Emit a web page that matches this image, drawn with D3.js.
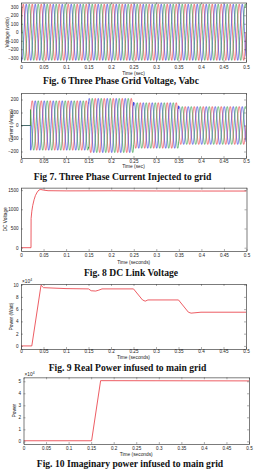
<!DOCTYPE html>
<html>
<head>
<meta charset="utf-8">
<script src="https://cdn.jsdelivr.net/npm/d3@7"></script>
<style>
  body { margin: 0; background: #fff; }
  svg { display: block; }
  .tick text { font-family: "Liberation Sans", Arial, sans-serif; font-size: 4.6px; fill: #222; }
  .tick line { stroke: #333; stroke-width: 0.4; }
  .domain { stroke: #222; stroke-width: 0.6; }
  .ttl { font-family: "Liberation Sans", Arial, sans-serif; font-size: 4.8px; fill: #222; }
  .cap { font-family: "Liberation Serif", "Times New Roman", serif; font-weight: bold; font-size: 9.6px; fill: #111; }
</style>
</head>
<body>
<script>
// ---- data ----
var timeTicks = [0, 0.05, 0.1, 0.15, 0.2, 0.25, 0.3, 0.35, 0.4, 0.45, 0.5];
var phaseNames = ['a', 'b', 'c'];
var phaseColors = ['#e8333c', '#2f35d8', '#2c9a40'];
var phaseShiftDeg = [0, -120, 120];
var gridFreq = 50;

// Fig 6 voltage: peak value of each phase
var voltPeak = 330;
var voltTicks = [-300, -200, -100, 0, 100, 200, 300];

// Fig 7 current: envelope (peak amps) per time segment
var currSegStart = [0, 0.021, 0.15, 0.25, 0.35];
var currSegEnd = [0.021, 0.15, 0.25, 0.35, 0.5];
var currSegPeak = [0, 190, 208, 175, 145];
var currTicks = [-200, -100, 0, 100, 200];

// Fig 8 DC link voltage
var dcTime = [0, 0.0222, 0.0224, 0.024, 0.026, 0.029, 0.032, 0.036, 0.04, 0.044, 0.05, 0.06, 0.1, 0.2, 0.3, 0.4, 0.5];
var dcVolt = [0, 0, 760, 950, 1100, 1250, 1360, 1450, 1505, 1515, 1500, 1485, 1480, 1482, 1478, 1476, 1476];
var dcTicks = [0, 500, 1000, 1500];

// Fig 9 real power (x10^4 W)
var pTime = [0, 0.024, 0.0445, 0.05, 0.1, 0.15, 0.156, 0.166, 0.173, 0.18, 0.25, 0.27, 0.276, 0.282, 0.35, 0.372, 0.378, 0.4, 0.5];
var pWatt = [0, 0, 9.9, 9.5, 9.35, 9.3, 9.0, 8.95, 9.1, 9.3, 9.3, 7.5, 7.3, 7.5, 7.5, 5.5, 5.35, 5.5, 5.5];
var pTicks = [0, 2, 4, 6, 8, 10];

// Fig 10 imaginary power (x10^4)
var qTime = [0, 0.151, 0.171, 0.5];
var qVar = [0.05, 0.05, 5.05, 5.03];
var qTicks = [0, 1, 2, 3, 4, 5];

var W = 254, H = 473;
var svg = d3.select('body').append('svg').attr('width', W).attr('height', H);
svg.append('rect').attr('width', W).attr('height', H).attr('fill', '#fff');

var tickFmt = function(d) { return d3.format('~g')(d); };

function panel(o) {
  var x = d3.scaleLinear().domain([0, 0.5]).range([o.left, o.right]);
  var y = d3.scaleLinear().domain(o.yDomain).range([o.bottom, o.top]);
  var g = svg.append('g');

  var clipId = 'clip' + o.id;
  g.append('clipPath').attr('id', clipId).append('rect')
    .attr('x', o.left).attr('y', o.top)
    .attr('width', o.right - o.left).attr('height', o.bottom - o.top);
  var plot = g.append('g').attr('clip-path', 'url(#' + clipId + ')');

  o.draw(plot, x, y);

  // box with inward ticks like matlab
  g.append('g').attr('transform', 'translate(0,' + o.bottom + ')')
    .call(d3.axisBottom(x).tickValues(timeTicks).tickFormat(tickFmt).tickSizeInner(-2).tickSizeOuter(0).tickPadding(o.xPad));
  g.append('g').attr('transform', 'translate(0,' + o.top + ')')
    .call(d3.axisTop(x).tickValues(timeTicks).tickFormat('').tickSizeInner(-2).tickSizeOuter(0));
  g.append('g').attr('transform', 'translate(' + o.left + ',0)')
    .call(d3.axisLeft(y).tickValues(o.yTicks).tickFormat(tickFmt).tickSizeInner(-2).tickSizeOuter(0).tickPadding(2.5));
  g.append('g').attr('transform', 'translate(' + o.right + ',0)')
    .call(d3.axisRight(y).tickValues(o.yTicks).tickFormat('').tickSizeInner(-2).tickSizeOuter(0));

  g.append('text').attr('class', 'ttl')
    .attr('x', (o.left + o.right) / 2).attr('y', o.xTitleY)
    .attr('text-anchor', 'middle').text(o.xTitle);
  g.append('text').attr('class', 'ttl')
    .attr('transform', 'translate(' + o.yTitleX + ',' + (o.top + o.bottom) / 2 + ') rotate(-90)')
    .attr('text-anchor', 'middle').text(o.yTitle);
  if (o.expo) {
    var t = g.append('text').attr('class', 'ttl').attr('x', o.left + 1).attr('y', o.top - 1.5);
    t.append('tspan').text('\u00d710');
    t.append('tspan').attr('dy', -1.6).style('font-size', '3.4px').text('4');
  }
  g.append('text').attr('class', 'cap')
    .attr('x', o.capX).attr('y', o.capY).attr('text-anchor', 'middle').text(o.caption);
}

function phaseSeries(envelope, shift) {
  var pts = [];
  for (var t = 0; t <= 0.5; t += 0.0001) {
    pts.push([t, envelope(t) * Math.sin(2 * Math.PI * gridFreq * t + shift * Math.PI / 180)]);
  }
  return pts;
}

function currEnvelope(t) {
  var i = d3.bisectRight(currSegStart, t) - 1;
  return currSegPeak[Math.max(0, Math.min(i, currSegPeak.length - 1))];
}

function wavesDraw(envelope) {
  return function(plot, x, y) {
    var line = d3.line().x(function(d) { return x(d[0]); }).y(function(d) { return y(d[1]); });
    phaseNames.forEach(function(p, i) {
      plot.append('path')
        .attr('d', line(phaseSeries(envelope, phaseShiftDeg[i])))
        .attr('fill', 'none').attr('stroke', phaseColors[i]).attr('stroke-width', 0.7);
    });
  };
}

function redDraw(ts, vs) {
  return function(plot, x, y) {
    var line = d3.line().x(function(d) { return x(d[0]); }).y(function(d) { return y(d[1]); });
    plot.append('path')
      .attr('d', line(ts.map(function(t, i) { return [t, vs[i]]; })))
      .attr('fill', 'none').attr('stroke', '#e8333c').attr('stroke-width', 0.8);
  };
}

panel({ id: 6, left: 21, right: 246, top: 2.5, bottom: 62, yDomain: [-350, 350], yTicks: voltTicks,
  xPad: 3.5, xTitle: 'Time (sec)', xTitleY: 74.5, yTitle: 'Voltage (volts)', yTitleX: 8.5,
  caption: 'Fig. 6 Three Phase Grid Voltage, Vabc', capX: 121, capY: 83.5,
  draw: wavesDraw(function() { return voltPeak; }) });

panel({ id: 7, left: 21, right: 246, top: 93, bottom: 158, yDomain: [-250, 250], yTicks: currTicks,
  xPad: 1.5, xTitle: 'Time (sec)', xTitleY: 167.8, yTitle: 'Current (Amps)', yTitleX: 12.5,
  caption: 'Fig 7. Three Phase Current Injected to grid', capX: 122.5, capY: 179.5,
  draw: wavesDraw(currEnvelope) });

panel({ id: 8, left: 21, right: 246.5, top: 187.7, bottom: 251, yDomain: [-86, 1563], yTicks: dcTicks,
  xPad: 2.5, xTitle: 'Time (seconds)', xTitleY: 263.5, yTitle: 'DC Voltage', yTitleX: 7,
  caption: 'Fig. 8 DC Link Voltage', capX: 131, capY: 275.5,
  draw: redDraw(dcTime, dcVolt) });

panel({ id: 9, left: 21, right: 246, top: 284, bottom: 349, yDomain: [-0.5, 10.1], yTicks: pTicks,
  xPad: 1.2, xTitle: 'Time (seconds)', xTitleY: 358.5, yTitle: 'Power (Watt)', yTitleX: 12.5,
  caption: 'Fig. 9 Real Power infused to main grid', capX: 127.5, capY: 370.8, expo: true,
  draw: redDraw(pTime, pWatt) });

panel({ id: 10, left: 23.5, right: 249, top: 377.3, bottom: 444, yDomain: [-0.22, 5.33], yTicks: qTicks,
  xPad: 2.8, xTitle: 'Time (seconds)', xTitleY: 455.5, yTitle: 'Power', yTitleX: 16,
  caption: 'Fig. 10 Imaginary power infused to main grid', capX: 130, capY: 466.5, expo: true,
  draw: redDraw(qTime, qVar) });
</script>
</body>
</html>
